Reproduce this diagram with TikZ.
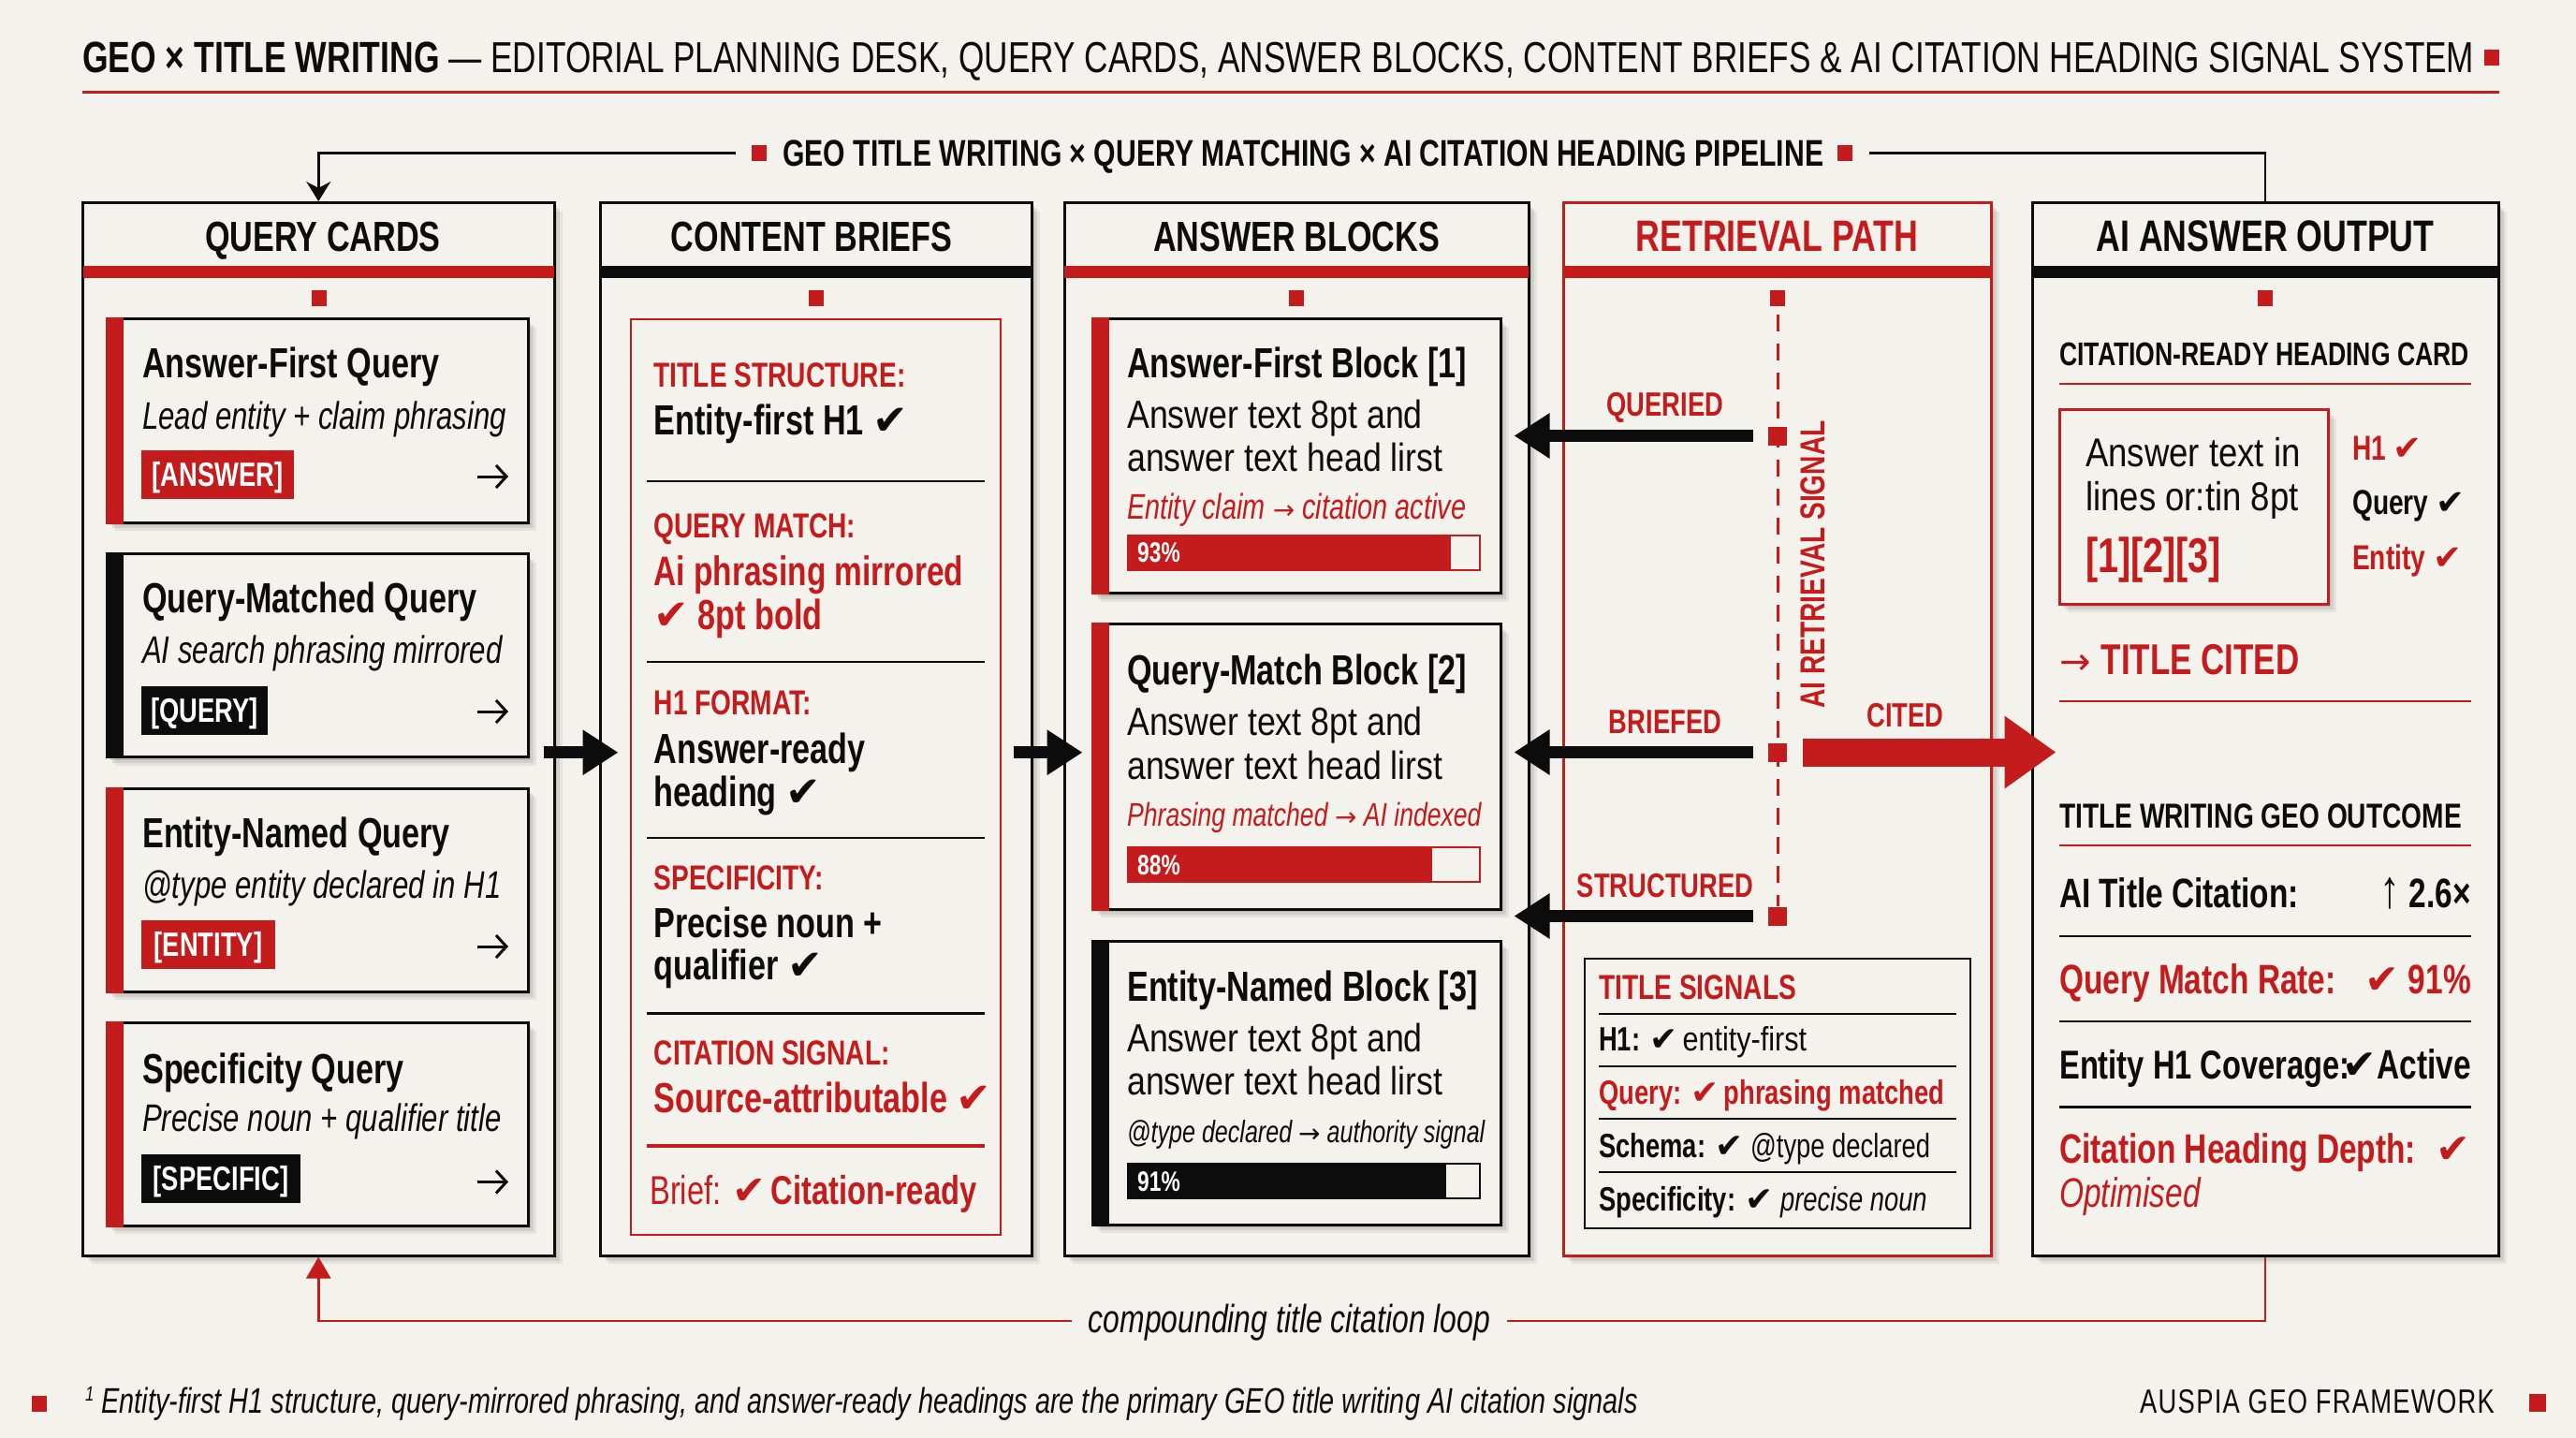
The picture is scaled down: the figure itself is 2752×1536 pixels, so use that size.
\documentclass[tikz,border=0pt]{standalone}
\usepackage{fontspec}
\setmainfont{Liberation Sans}[FakeStretch=0.76]
\newfontfamily\bodyf{Liberation Sans}[FakeStretch=0.85]
\newfontfamily\symfont{DejaVu Sans}
\usetikzlibrary{arrows.meta,shadows}
\definecolor{geored}{HTML}{C41C1C}
\definecolor{geoblk}{HTML}{0C0C0C}
\definecolor{paper}{HTML}{F3F2EC}
\newcommand{\ck}{{\symfont\upshape ✔}}
\newcommand{\fs}[1]{\fontsize{#1}{#1}\selectfont}
\newcommand{\ar}{{\symfont\mdseries\upshape\fs{28}→}}
\begin{document}
\begin{tikzpicture}[x=1pt,y=-1pt]
	\tikzstyle{softshadow}=[drop shadow={shadow xshift=3pt,shadow yshift=-3pt,fill=black,opacity=.10},drop shadow={shadow xshift=6pt,shadow yshift=-6pt,fill=black,opacity=.09},drop shadow={shadow xshift=9pt,shadow yshift=-9pt,fill=black,opacity=.06}]
	\tikzstyle{panel}=[rectangle,draw=geoblk,fill=paper,line width=3pt,inner sep=0pt,minimum height=1124.5pt,softshadow]
	\tikzstyle{card}=[rectangle,draw=geoblk,fill=paper,line width=3pt,inner sep=0pt,softshadow]
	\tikzstyle{sqmark}=[rectangle,fill=geored,inner sep=0pt,minimum width=16pt,minimum height=17pt]
	\tikzstyle{txt}=[anchor=base west,inner sep=0pt,text=geoblk]
	\tikzstyle{rtxt}=[txt,text=geored]
	\tikzstyle{head}=[anchor=base,inner sep=0pt,text=geoblk,font=\fs{45}\bfseries]
	\tikzstyle{cardttl}=[txt,font=\fs{45}\bfseries]
	\tikzstyle{cardsub}=[txt,font=\fs{41}\itshape]
	\tikzstyle{badge}=[rectangle,inner sep=0pt,minimum height=52pt,text height=32pt,text depth=7pt,text=white,font=\fs{36}\bfseries]
	\tikzstyle{keylab}=[rtxt,font=\fs{37}\bfseries]
	\tikzstyle{keyval}=[txt,font=\fs{45}\bfseries]
	\tikzstyle{bodytxt}=[txt,font=\bodyf\fs{42}]
	\tikzstyle{bar}=[rectangle,draw=geored,fill=paper,line width=2pt,inner sep=0pt,minimum height=37pt,anchor=west]
	\tikzstyle{pct}=[txt,text=white,font=\fs{30}\bfseries]
	\tikzstyle{flow}=[line width=13.4pt,draw=geoblk,-{Triangle[length=38pt,width=46pt]}]
	\tikzstyle{pathlab}=[anchor=base,inner sep=0pt,text=geored,font=\fs{36}\bfseries]
	\tikzstyle{sig}=[txt,font=\fs{36}]
	\tikzstyle{outval}=[txt,font=\fs{44}\bfseries]
	\tikzstyle{rulek}=[draw=geoblk,line width=2.5pt]
	\tikzstyle{ruler}=[draw=geored,line width=2.5pt]
	\tikzstyle{cardarrow}=[draw=geoblk,line width=3pt,-{Straight Barb[length=11pt,width=24pt]}]

	\def \qx{152}
	\def \bx{698.5}
	\def \ax{1204}
	\def \sx{1708}
	\def \ox{2200}
	\def \oe{2640}

	\useasboundingbox (0,0) rectangle (2752,1536);
	\fill[paper] (0,0) rectangle (2752,1536);

	% title
	\node[txt,font=\fs{46.3}] (ttl) at (88,78) {{\fs{46.7}\bfseries GEO × TITLE WRITING} — EDITORIAL PLANNING DESK, QUERY CARDS, ANSWER BLOCKS, CONTENT BRIEFS \& AI CITATION HEADING SIGNAL SYSTEM};
	\node[sqmark] (ttlsq) at (2662,62) {};
	\draw[draw=geored,line width=3pt] (88,99) -- (2670,99);

	% panels
	\node[panel,minimum width=503.5pt] (qcards) at (340.25,778.75) {};
	\node[panel,minimum width=461pt] (briefs) at (871.5,778.75) {};
	\node[panel,minimum width=496pt] (blocks) at (1385,778.75) {};
	\node[panel,minimum width=457pt,draw=geored] (rpath) at (1898.5,778.75) {};
	\node[panel,minimum width=498pt] (output) at (2420,778.75) {};

	\fill[geored] (88.5,284) rectangle (592,297);
	\fill[geoblk] (641,284) rectangle (1102,297);
	\fill[geored] (1137,284) rectangle (1633,297);
	\fill[geored] (1670,284) rectangle (2127,297);
	\fill[geoblk] (2171,284) rectangle (2669,297);

	\node[head] (qhead) at (345,268) {QUERY CARDS};
	\node[head] (bhead) at (867,268) {CONTENT BRIEFS};
	\node[head] (ahead) at (1385,268) {ANSWER BLOCKS};
	\node[head,text=geored,font=\fs{47}\bfseries] (rhead) at (1898.5,268) {RETRIEVAL PATH};
	\node[head,font=\fs{47}\bfseries] (ohead) at (2420,268) {AI ANSWER OUTPUT};

	\node[sqmark] (qsq) at (340.5,318.5) {};
	\node[sqmark] (bsq) at (872,318.5) {};
	\node[sqmark] (asq) at (1385,318.5) {};
	\node[sqmark] (osq) at (2420,318.5) {};

	% top and bottom loops
	\node[sqmark] (pipel) at (811,163.5) {};
	\node[txt,font=\fs{39.7}\bfseries] (pipe) at (836,177) {GEO TITLE WRITING × QUERY MATCHING × AI CITATION HEADING PIPELINE};
	\node[sqmark] (piper) at (1971,163.5) {};
	\draw[rulek,shorten <=17pt,-{Stealth[length=21pt,width=26pt]}] (pipel) -| (qcards.north);
	\draw[rulek,shorten <=18pt] (piper) -| (output.north);

	\node[anchor=center,inner ysep=0pt,inner xsep=18pt,text depth=6pt,text=geoblk,font=\fs{42}\itshape] (loop) at (1377.5,1411) {compounding title citation loop};
	\draw[ruler] (output.south) |- (loop.east);
	\draw[ruler,-{Triangle[length=23pt,width=26pt]}] (loop.west) -| (qcards.south);

	% query cards
	\node[card,minimum width=450pt,minimum height=217.4pt] (qc1) at (339,449.3) {};
	\node[card,minimum width=450pt,minimum height=217pt] (qc2) at (339,700) {};
	\node[card,minimum width=450pt,minimum height=217pt] (qc3) at (339,950.5) {};
	\node[card,minimum width=450pt,minimum height=217pt] (qc4) at (339,1200.75) {};
	\fill[geored] (qc1.north west) rectangle ([xshift=19pt]qc1.south west);
	\fill[geoblk] (qc2.north west) rectangle ([xshift=19pt]qc2.south west);
	\fill[geored] (qc3.north west) rectangle ([xshift=19pt]qc3.south west);
	\fill[geored] (qc4.north west) rectangle ([xshift=19pt]qc4.south west);

	\node[cardttl] (qc1t) at (\qx,403) {Answer-First Query};
	\node[cardsub] (qc1s) at (\qx,458) {Lead entity + claim phrasing};
	\node[badge,fill=geored,minimum width=163pt] (qc1b) at (232.5,507) {[ANSWER]};
	\coordinate (qc1a) at (510,509);

	\node[cardttl] (qc2t) at (\qx,654) {Query-Matched Query};
	\node[cardsub] (qc2s) at (\qx,708.5) {AI search phrasing mirrored};
	\node[badge,fill=geoblk,minimum width=135pt] (qc2b) at (218.5,759) {[QUERY]};
	\coordinate (qc2a) at (510,760);

	\node[cardttl] (qc3t) at (\qx,905.5) {Entity-Named Query};
	\node[cardsub] (qc3s) at (\qx,959.5) {@type entity declared in H1};
	\node[badge,fill=geored,minimum width=143pt] (qc3b) at (222.5,1008.5) {[ENTITY]};
	\coordinate (qc3a) at (510,1011);

	\node[cardttl] (qc4t) at (\qx,1157) {Specificity Query};
	\node[cardsub] (qc4s) at (\qx,1208.5) {Precise noun + qualifier title};
	\node[badge,fill=geoblk,minimum width=170pt] (qc4b) at (236,1259) {[SPECIFIC]};
	\coordinate (qc4a) at (510,1262.5);

	\draw[cardarrow] (qc1a) -- ++(33,0);
	\draw[cardarrow] (qc2a) -- ++(33,0);
	\draw[cardarrow] (qc3a) -- ++(33,0);
	\draw[cardarrow] (qc4a) -- ++(33,0);

	% content briefs
	\node[rectangle,draw=geored,line width=2.5pt,inner sep=0pt,minimum width=395pt,minimum height=978pt] (bframe) at (871.5,830) {};
	\node[keylab] (b1k) at (\bx,413) {TITLE STRUCTURE:};
	\node[keyval] (b1v) at (\bx,464) {Entity-first H1 \ck};
	\draw[rulek] (691,514) -- (1052,514);
	\node[keylab] (b2k) at (\bx,574) {QUERY MATCH:};
	\node[keyval,text=geored,font=\fs{44}\bfseries] (b2v) at (\bx,625) {Ai phrasing mirrored};
	\node[keyval,text=geored] (b2w) at (\bx,672) {\ck{} 8pt bold};
	\draw[rulek] (691,707) -- (1052,707);
	\node[keylab] (b3k) at (\bx,763) {H1 FORMAT:};
	\node[keyval] (b3v) at (\bx,815) {Answer-ready};
	\node[keyval] (b3w) at (\bx,861) {heading \ck};
	\draw[rulek] (691,895) -- (1052,895);
	\node[keylab] (b4k) at (\bx,950) {SPECIFICITY:};
	\node[keyval] (b4v) at (\bx,1001) {Precise noun +};
	\node[keyval] (b4w) at (\bx,1046.5) {qualifier \ck};
	\draw[rulek] (691,1082.5) -- (1052,1082.5);
	\node[keylab] (b5k) at (\bx,1137) {CITATION SIGNAL:};
	\node[keyval,text=geored] (b5v) at (\bx,1188) {Source-attributable \ck};
	\draw[ruler,line width=3.5pt] (691,1224) -- (1052,1224);
	\node[txt,font=\fs{43},text=geored] (b6) at (694,1286) {Brief: \textbf{\ck\hspace{5pt}Citation-ready}};

	% answer blocks
	\node[card,minimum width=436pt,minimum height=293.3pt] (ab1) at (1385,487.3) {};
	\node[card,minimum width=436pt,minimum height=304.4pt] (ab2) at (1385,818.8) {};
	\node[card,minimum width=436pt,minimum height=303pt] (ab3) at (1385,1156.5) {};
	\fill[geored] (ab1.north west) rectangle ([xshift=19pt]ab1.south west);
	\fill[geored] (ab2.north west) rectangle ([xshift=19pt]ab2.south west);
	\fill[geoblk] (ab3.north west) rectangle ([xshift=19pt]ab3.south west);

	\node[cardttl] (ab1t) at (\ax,403) {Answer-First Block [1]};
	\node[bodytxt] (ab1b) at (\ax,457) {Answer text 8pt and};
	\node[bodytxt] (ab1c) at (\ax,503.5) {answer text head lirst};
	\node[cardsub,text=geored,font=\fs{38}\itshape] (ab1s) at (\ax,554) {Entity claim \ar{} citation active};
	\node[bar,minimum width=376pt] (ab1bar) at (\ax,590) {};
	\node[rectangle,fill=geored,inner sep=0pt,minimum width=346pt,minimum height=37pt,anchor=west] (ab1fill) at (\ax,590) {};
	\node[pct] (ab1p) at (1215,600) {93\%};

	\node[cardttl] (ab2t) at (\ax,731) {Query-Match Block [2]};
	\node[bodytxt] (ab2b) at (\ax,785) {Answer text 8pt and};
	\node[bodytxt] (ab2c) at (\ax,832) {answer text head lirst};
	\node[cardsub,text=geored,font=\fs{35}\itshape] (ab2s) at (\ax,882) {Phrasing matched \ar{} AI indexed};
	\node[bar,minimum width=376pt] (ab2bar) at (\ax,923.5) {};
	\node[rectangle,fill=geored,inner sep=0pt,minimum width=326pt,minimum height=37pt,anchor=west] (ab2fill) at (\ax,923.5) {};
	\node[pct] (ab2p) at (1215,934) {88\%};

	\node[cardttl] (ab3t) at (\ax,1069) {Entity-Named Block [3]};
	\node[bodytxt] (ab3b) at (\ax,1123) {Answer text 8pt and};
	\node[bodytxt] (ab3c) at (\ax,1169.5) {answer text head lirst};
	\node[cardsub,font=\fs{33}\itshape] (ab3s) at (\ax,1220) {@type declared \ar{} authority signal};
	\node[bar,draw=geoblk,minimum width=376pt] (ab3bar) at (\ax,1261.5) {};
	\node[rectangle,fill=geoblk,inner sep=0pt,minimum width=341pt,minimum height=37pt,anchor=west] (ab3fill) at (\ax,1261.5) {};
	\node[pct] (ab3p) at (1215,1272) {91\%};

	% retrieval path
	\node[sqmark] (rp0) at (1899,318.5) {};
	\node[sqmark,minimum width=20pt,minimum height=20pt] (rp1) at (1899,465.5) {};
	\node[sqmark,minimum width=20pt,minimum height=20pt] (rp2) at (1899,803.5) {};
	\node[sqmark,minimum width=20pt,minimum height=20pt] (rp3) at (1899,978.5) {};
	\draw[draw=geored,line width=3pt,dash pattern=on 18pt off 13pt,shorten <=9pt] (rp0) -- (rp3);
	\node[pathlab] (rl1) at (1779,444) {QUERIED};
	\node[pathlab] (rl2) at (1779,783) {BRIEFED};
	\node[pathlab] (rl3) at (1779,958) {STRUCTURED};
	\node[pathlab] (rl4) at (2035.5,776) {CITED};
	\node[anchor=base,inner sep=0pt,text=geored,rotate=90,font=\fs{37}\bfseries] (rsig) at (1949,603) {AI RETRIEVAL SIGNAL};

	\node[rectangle,draw=geoblk,line width=2.5pt,inner sep=0pt,minimum width=412pt,minimum height=288pt] (sigbox) at (1899,1168) {};
	\node[sig,text=geored,font=\fs{37}\bfseries] (s0) at (\sx,1067) {TITLE SIGNALS};
	\draw[rulek] (\sx,1083) -- (2090,1083);
	\node[sig] (s1) at (\sx,1122) {\textbf{H1: \ck}\hspace{5pt}{\bodyf entity-first}};
	\draw[rulek] (\sx,1139) -- (2090,1139);
	\node[sig,text=geored] (s2) at (\sx,1179) {\textbf{Query: \ck\hspace{5pt}phrasing matched}};
	\draw[rulek] (\sx,1195) -- (2090,1195);
	\node[sig] (s3) at (\sx,1236) {\textbf{Schema: \ck} @type declared};
	\draw[rulek] (\sx,1252) -- (2090,1252);
	\node[sig] (s4) at (\sx,1293) {\textbf{Specificity: \ck} \textit{precise noun}};

	% ai answer output
	\node[txt,font=\fs{35}\bfseries] (o1) at (\ox,390) {CITATION-READY HEADING CARD};
	\draw[ruler] (\ox,410) -- (\oe,410);
	\node[card,draw=geored,minimum width=287pt,minimum height=207.4pt] (ocard) at (2343.5,541.3) {};
	\node[bodytxt,font=\bodyf\fs{43}] (oc1) at (2228,498) {Answer text in};
	\node[bodytxt,font=\bodyf\fs{43}] (oc2) at (2228,545) {lines or:tin 8pt};
	\node[rtxt,font=\fs{52}\bfseries] (oc3) at (2228,611) {[1][2][3]};
	\node[keylab] (oh1) at (2513,491.5) {H1 \ck};
	\node[keylab,text=geoblk] (oh2) at (2513,549.5) {Query \ck};
	\node[keylab] (oh3) at (2513,608.5) {Entity \ck};
	\node[rtxt,font=\fs{46}\bfseries] (ocited) at (\ox,720) {{\symfont\mdseries\fs{40}→}\hspace{11pt}TITLE CITED};
	\draw[ruler] (\ox,749) -- (\oe,749);
	\node[txt,font=\fs{37}\bfseries] (o2) at (\ox,884) {TITLE WRITING GEO OUTCOME};
	\draw[ruler] (\ox,903) -- (\oe,903);
	\node[outval] (m1) at (\ox,969.5) {AI Title Citation:};
	\node[outval,anchor=base east] (m1v) at (\oe,969.5) {\scalebox{1.3}{↑} 2.6×};
	\draw[rulek] (\ox,1000) -- (\oe,1000);
	\node[outval,text=geored] (m2) at (\ox,1061) {Query Match Rate:};
	\node[outval,anchor=base east,text=geored] (m2v) at (\oe,1061) {\ck{} 91\%};
	\draw[rulek] (\ox,1091) -- (\oe,1091);
	\node[outval,font=\fs{43}\bfseries] (m3) at (\ox,1152) {Entity H1 Coverage:};
	\node[outval,anchor=base east] (m3v) at (\oe,1152) {\ck{}Active};
	\draw[rulek] (\ox,1182.5) -- (\oe,1182.5);
	\node[outval,text=geored] (m4) at (\ox,1242.5) {Citation Heading Depth:};
	\node[outval,anchor=base east,text=geored] (m4v) at (\oe,1242.5) {\ck};
	\node[rtxt,font=\fs{44}\itshape] (m4s) at (\ox,1289) {Optimised};

	% flow arrows
	\draw[flow,shorten <=-13pt,shorten >=-21pt] ([yshift=-25pt]qcards.east) -- ([yshift=-25pt]briefs.west);
	\draw[flow,shorten <=-21pt,shorten >=-21pt] ([yshift=-25pt]briefs.east) -- ([yshift=-25pt]blocks.west);
	\draw[flow,shorten <=16pt,shorten >=13pt] (rp1) -- (rp1 -| ab1.east);
	\draw[flow,shorten <=16pt,shorten >=13pt] (rp2) -- (rp2 -| ab2.east);
	\draw[flow,shorten <=16pt,shorten >=13pt] (rp3) -- (rp3 -| ab2.east);
	\draw[draw=geored,line width=30pt,shorten <=17pt,shorten >=-27pt,-{Triangle[length=55pt,width=74pt]}] (rp2) -- (rp2 -| output.west);

	% footer
	\node[sqmark] (fl) at (42,1499) {};
	\node[txt,font=\fs{38}\itshape] (fnote) at (91,1509) {\raisebox{13pt}{\fs{22}1} Entity-first H1 structure, query-mirrored phrasing, and answer-ready headings are the primary GEO title writing AI citation signals};
	\node[txt,font=\fs{36}\addfontfeature{LetterSpace=3.5}] (ffw) at (2286,1509) {AUSPIA GEO FRAMEWORK};
	\node[sqmark,minimum width=18pt,minimum height=19pt] (fr) at (2710.5,1498.5) {};
\end{tikzpicture}
\end{document}
